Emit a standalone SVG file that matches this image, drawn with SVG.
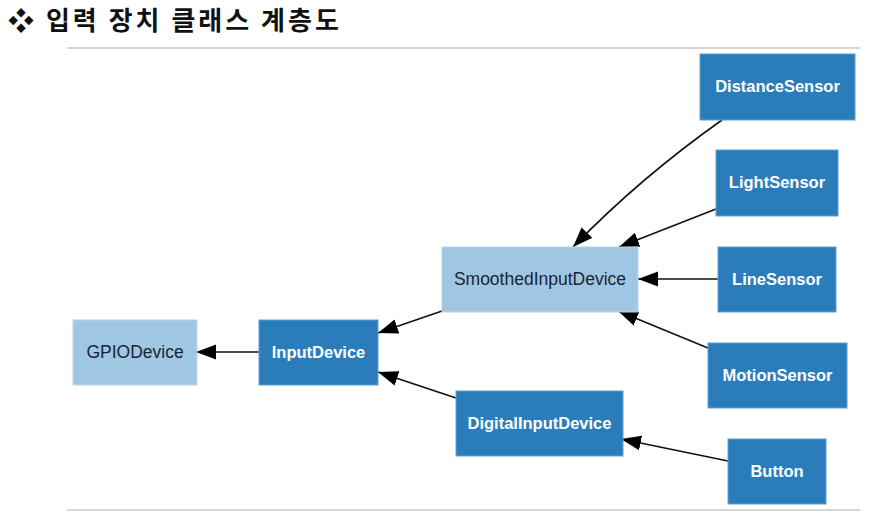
<svg xmlns="http://www.w3.org/2000/svg" width="875" height="525" viewBox="0 0 875 525">
<style>
.title{font-family:"Noto Sans CJK KR","Liberation Sans",sans-serif;font-weight:bold;font-size:26px;letter-spacing:3px;fill:#111}
.rule{stroke:#c8c8c8;stroke-width:1.5}
.dark rect{fill:#2b7cba;stroke:#5aa0d6;stroke-width:1}
.light rect{fill:#9fc6e3;stroke:#b7d6ee;stroke-width:1}
.dark text{font-family:"Liberation Sans",Arial,sans-serif;font-size:16.5px;font-weight:bold;fill:#fff;text-anchor:middle;dominant-baseline:central}
.light text{font-family:"Liberation Sans",Arial,sans-serif;font-size:17.5px;fill:#1a2533;text-anchor:middle;dominant-baseline:central}
.edge{fill:none;stroke:#111;stroke-width:1.6;marker-end:url(#ah)}
</style>
<defs>
<marker id="ah" markerUnits="userSpaceOnUse" markerWidth="21" markerHeight="16" refX="20" refY="8" orient="auto">
<path d="M0,0.5 L20,8 L0,15.5 Z" fill="#000"/>
</marker>
</defs>
<rect width="875" height="525" fill="#fff"/>
<text class="title" x="8" y="30">❖ 입력 장치 클래스 계층도</text>
<line class="rule" x1="67" y1="48" x2="860" y2="48"/>
<line class="rule" x1="67" y1="510" x2="860" y2="510"/>
<g id="edges">
<path class="edge" d="M259,352 L196,352"/>
<path class="edge" d="M442,311 L378,333"/>
<path class="edge" d="M456,398 L378,372"/>
<path class="edge" d="M722,120 Q640,178 573,247"/>
<path class="edge" d="M716,209 L619,247"/>
<path class="edge" d="M718,279 L638,279"/>
<path class="edge" d="M708,348 L618,311"/>
<path class="edge" d="M728,461 L621,439"/>
</g>
<g id="GPIODevice" class="light"><rect x="73" y="320" width="124" height="65"/><text x="135" y="352">GPIODevice</text></g>
<g id="InputDevice" class="dark"><rect x="259" y="320" width="119" height="65"/><text x="318.5" y="352">InputDevice</text></g>
<g id="SmoothedInputDevice" class="light"><rect x="442" y="247" width="196" height="65"/><text x="540" y="279">SmoothedInputDevice</text></g>
<g id="DigitalInputDevice" class="dark"><rect x="456" y="391" width="167" height="65"/><text x="539.5" y="423">DigitalInputDevice</text></g>
<g id="DistanceSensor" class="dark"><rect x="700" y="54" width="155" height="66"/><text x="777.5" y="86">DistanceSensor</text></g>
<g id="LightSensor" class="dark"><rect x="716" y="150" width="122" height="66"/><text x="777" y="182">LightSensor</text></g>
<g id="LineSensor" class="dark"><rect x="718" y="247" width="118" height="65"/><text x="777" y="279">LineSensor</text></g>
<g id="MotionSensor" class="dark"><rect x="708" y="343" width="139" height="65"/><text x="777.5" y="375">MotionSensor</text></g>
<g id="Button" class="dark"><rect x="728" y="439" width="98" height="65"/><text x="777" y="471">Button</text></g>
</svg>
